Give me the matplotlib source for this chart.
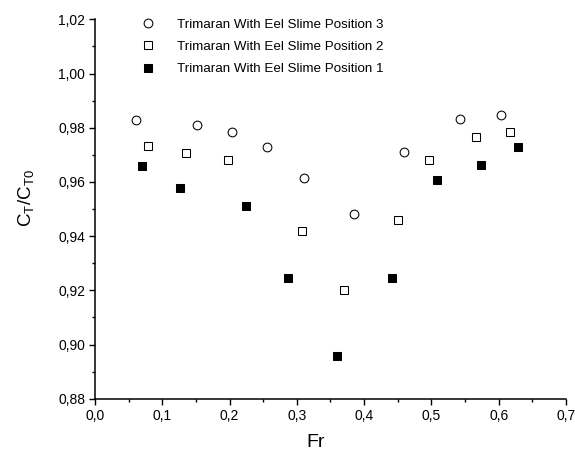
import matplotlib
matplotlib.use('Agg')
import matplotlib.pyplot as plt
from matplotlib.ticker import MultipleLocator, FuncFormatter

plt.rcParams['font.family'] = ['Liberation Sans', 'DejaVu Sans']
plt.rcParams['mathtext.fontset'] = 'custom'
plt.rcParams['mathtext.rm'] = 'Liberation Sans'
plt.rcParams['mathtext.it'] = 'Liberation Sans'

# Data
fr_pos3 = [0.061, 0.152, 0.203, 0.256, 0.310, 0.385, 0.459, 0.542, 0.603]
ct_pos3 = [0.9828, 0.9811, 0.9784, 0.9728, 0.9613, 0.9480, 0.9710, 0.9832, 0.9848]

fr_pos2 = [0.079, 0.135, 0.198, 0.307, 0.370, 0.450, 0.496, 0.567, 0.617]
ct_pos2 = [0.9733, 0.9706, 0.9680, 0.9420, 0.9200, 0.9461, 0.9680, 0.9765, 0.9784]

fr_pos1 = [0.070, 0.126, 0.225, 0.287, 0.360, 0.441, 0.509, 0.574, 0.629]
ct_pos1 = [0.9660, 0.9579, 0.9513, 0.9246, 0.8958, 0.9246, 0.9608, 0.9664, 0.9728]

labels = ['Trimaran With Eel Slime Position 3',
          'Trimaran With Eel Slime Position 2',
          'Trimaran With Eel Slime Position 1']

fig = plt.figure(figsize=(5.75, 4.55), dpi=100)
ax = fig.add_axes([0.1652, 0.1235, 0.819, 0.834])

ax.plot(fr_pos3, ct_pos3, 'o', mfc='white', mec='black', mew=0.75, ms=6.3, label=labels[0])
ax.plot(fr_pos2, ct_pos2, 's', mfc='white', mec='black', mew=0.75, ms=5.7, label=labels[1])
ax.plot(fr_pos1, ct_pos1, 's', mfc='black', mec='black', mew=0.75, ms=5.6, label=labels[2])

ax.set_xlim(0, 0.7)
ax.set_ylim(0.88, 1.02)
ax.xaxis.set_major_locator(MultipleLocator(0.1))
ax.xaxis.set_minor_locator(MultipleLocator(0.05))
ax.yaxis.set_major_locator(MultipleLocator(0.02))
ax.yaxis.set_minor_locator(MultipleLocator(0.01))
ax.xaxis.set_major_formatter(FuncFormatter(lambda v, p: f'{v:.1f}'.replace('.', ',')))
ax.yaxis.set_major_formatter(FuncFormatter(lambda v, p: f'{v:.2f}'.replace('.', ',')))

for s in ['top', 'right']:
    ax.spines[s].set_visible(False)
for s in ['left', 'bottom']:
    ax.spines[s].set_linewidth(1.1)
ax.tick_params(which='major', direction='out', length=4, width=1.0, labelsize=10, pad=3)
ax.tick_params(which='minor', direction='out', length=2.3, width=1.0)

ax.set_xlabel('Fr', fontsize=14, va='top')
ax.xaxis.set_label_coords(0.469, -0.092)
ax.set_ylabel(r'C$_T$/C$_{T0}$', fontsize=13.5)
ax.yaxis.set_label_coords(-0.125, 0.53)

ax.legend(loc='upper left', bbox_to_anchor=(0.084, 1.002), frameon=False,
          fontsize=9.6, handlelength=2.0, handletextpad=1.15,
          labelspacing=0.74, borderaxespad=0, borderpad=0)

fig.savefig('out.png', dpi=100)
